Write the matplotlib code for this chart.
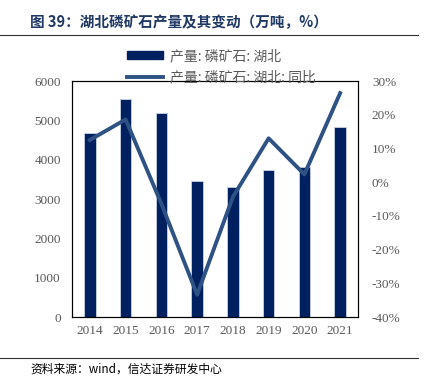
import matplotlib
matplotlib.use("Agg")
import matplotlib.pyplot as plt
from matplotlib.patches import Patch
from matplotlib.lines import Line2D
from matplotlib.ticker import FuncFormatter

years = ["2014", "2015", "2016", "2017", "2018", "2019", "2020", "2021"]
output = [4670, 5535, 5180, 3450, 3297, 3737, 3821, 4831]
yoy = [12.5, 18.6, -6.4, -33.4, -4.4, 13.0, 2.3, 26.4]
left_ticks = [0, 1000, 2000, 3000, 4000, 5000, 6000]
right_ticks = [-40, -30, -20, -10, 0, 10, 20, 30]

bar_color = "#002060"
line_color = "#2E5283"
tick_color = "#595959"
cjk = ["Noto Sans CJK SC", "DejaVu Sans"]

fig = plt.figure(figsize=(4.24, 3.85), dpi=100)
ax = fig.add_axes([72/424, 1-317/385, 286/424, 236/385])
ax2 = ax.twinx()

x = list(range(len(years)))
ax.bar(x, output, width=0.32, color=bar_color, edgecolor="#c9d3e3", linewidth=0.6, zorder=2)
ax.set_ylim(0, 6000)
ax.set_xlim(-0.5, 7.5)
ax.set_yticks(left_ticks)
ax.set_xticks(x)
ax.set_xticklabels(years)

ax2.plot(x, yoy, color=line_color, linewidth=2.8, zorder=3)
ax2.set_ylim(-40, 30)
ax2.set_yticks(right_ticks)
ax2.yaxis.set_major_formatter(FuncFormatter(lambda v, p: f"{int(v)}%"))

for a in (ax, ax2):
    a.tick_params(length=0, colors=tick_color, labelsize=9.5, pad=8)
    for lab in a.get_xticklabels() + a.get_yticklabels():
        lab.set_family("Liberation Serif")
    for s in a.spines.values():
        s.set_color("#000000")
        s.set_linewidth(0.8)
ax.tick_params(axis="x", pad=6)
ax2.tick_params(axis="y", pad=10)

handles = [Patch(facecolor=bar_color, edgecolor=bar_color),
           Line2D([0], [0], color=line_color, linewidth=2.8)]
labels = ["产量: 磷矿石: 湖北", "产量: 磷矿石: 湖北: 同比"]
leg = fig.legend(handles, labels, loc="upper left", bbox_to_anchor=(127/424, 1-49/385),
                 frameon=False, prop={"family": cjk, "size": 10}, labelcolor=tick_color,
                 handlelength=2.6, handleheight=0.5, labelspacing=0.5, handletextpad=0.5,
                 borderpad=0, borderaxespad=0)

fig.text(30/424, 1-22/385, "图 39：湖北磷矿石产量及其变动（万吨，%）", family=cjk,
         fontsize=10.5, fontweight="bold", color="#1F3864", va="center", ha="left")
fig.add_artist(Line2D([0, 418/424], [1-35/385, 1-35/385], color="#333333", linewidth=0.8))
fig.add_artist(Line2D([0, 418/424], [1-358/385, 1-358/385], color="#333333", linewidth=0.8))
fig.text(30/424, 1-369/385, "资料来源：wind，信达证券研发中心", family=cjk,
         fontsize=8.5, style="italic", color="#000000", va="center", ha="left")

fig.savefig("out.png", dpi=100)
